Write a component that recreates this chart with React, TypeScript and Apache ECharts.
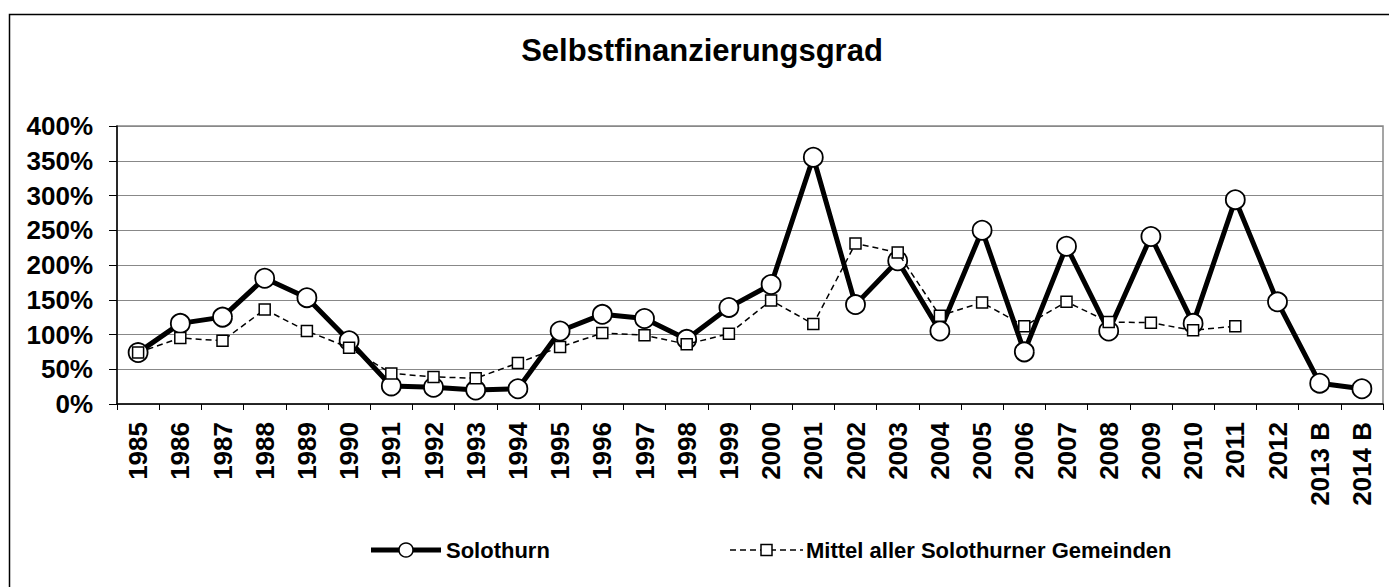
import React, { useEffect, useRef } from "react";
import * as echarts from "echarts";

const categories = [
  "1985", "1986", "1987", "1988", "1989", "1990", "1991", "1992", "1993", "1994",
  "1995", "1996", "1997", "1998", "1999", "2000", "2001", "2002", "2003", "2004",
  "2005", "2006", "2007", "2008", "2009", "2010", "2011", "2012", "2013 B", "2014 B",
];
const solothurn = [
  74, 116, 125, 181, 153, 91, 26, 24, 20, 22,
  105, 129, 123, 93, 139, 172, 355, 143, 206, 105,
  250, 75, 227, 105, 241, 116, 294, 147, 30, 22,
];
const mittel = [
  74, 95, 91, 136, 105, 81, 44, 39, 37, 59,
  82, 102, 99, 86, 101, 149, 115, 231, 218, 127,
  146, 112, 147, 118, 117, 106, 112, null, null, null,
];
const seriesNames = ["Solothurn", "Mittel aller Solothurner Gemeinden"];
const titleText = "Selbstfinanzierungsgrad";

const FONT = "'Liberation Sans', Arial, Helvetica, sans-serif";

export default function App() {
  const ref = useRef<HTMLDivElement>(null);
  useEffect(() => {
    if (!ref.current) return;
    const chart = echarts.init(ref.current, undefined, { renderer: "svg" });
    const legendY = 550;
    chart.setOption({
      animation: false,
      backgroundColor: "#ffffff",
      graphic: [
        {
          type: "rect",
          shape: { x: 9.5, y: 14.5, width: 1420, height: 620 },
          style: { fill: "none", stroke: "#000", lineWidth: 1.5 },
          z: 0,
        },
        // legend entry 1
        {
          type: "line",
          shape: { x1: 371, y1: legendY, x2: 441, y2: legendY },
          style: { stroke: "#000", lineWidth: 5 },
          z: 10,
        },
        {
          type: "circle",
          shape: { cx: 406, cy: legendY, r: 7 },
          style: { fill: "#fff", stroke: "#000", lineWidth: 1.5 },
          z: 11,
        },
        {
          type: "text",
          x: 446,
          y: legendY,
          style: {
            text: seriesNames[0],
            fill: "#000",
            font: "bold 22px " + FONT,
            verticalAlign: "middle",
            align: "left",
          },
          z: 10,
        },
        // legend entry 2
        {
          type: "line",
          shape: { x1: 730, y1: legendY, x2: 803, y2: legendY },
          style: { stroke: "#000", lineWidth: 1.5, lineDash: [6, 4] },
          z: 10,
        },
        {
          type: "rect",
          shape: { x: 761, y: legendY - 5.5, width: 11, height: 11 },
          style: { fill: "#fff", stroke: "#000", lineWidth: 1.5 },
          z: 11,
        },
        {
          type: "text",
          x: 806,
          y: legendY,
          style: {
            text: seriesNames[1],
            fill: "#000",
            font: "bold 22px " + FONT,
            verticalAlign: "middle",
            align: "left",
          },
          z: 10,
        },
      ],
      title: {
        text: titleText,
        left: 697,
        top: 30,
        textAlign: "center",
        textStyle: { fontFamily: FONT, fontWeight: "bold", fontSize: 31, color: "#000" },
      },
      grid: { left: 117, right: 6, top: 126, bottom: 183, show: true, borderColor: "#888", borderWidth: 1.5 },
      xAxis: {
        type: "category",
        data: categories,
        boundaryGap: true,
        axisLine: { lineStyle: { color: "#000", width: 1.5 } },
        axisTick: { show: true, length: 6, lineStyle: { color: "#000" } },
        axisLabel: {
          rotate: 90,
          margin: 18,
          interval: 0,
          fontFamily: FONT,
          fontWeight: "bold",
          fontSize: 26,
          color: "#000",
        },
      },
      yAxis: {
        type: "value",
        min: 0,
        max: 400,
        interval: 50,
        axisLine: { show: true, lineStyle: { color: "#000", width: 1.5 } },
        axisTick: { show: true, length: 8, lineStyle: { color: "#000" } },
        splitLine: { lineStyle: { color: "#888", width: 1.2 } },
        axisLabel: {
          formatter: (v: number) => v + "%",
          margin: 24,
          fontFamily: FONT,
          fontWeight: "bold",
          fontSize: 26,
          color: "#000",
        },
      },
      series: [
        {
          name: seriesNames[0],
          type: "line",
          data: solothurn,
          z: 2,
          symbol: "circle",
          symbolSize: 19,
          lineStyle: { color: "#000", width: 5 },
          itemStyle: { color: "#fff", borderColor: "#000", borderWidth: 1.8 },
        },
        {
          name: seriesNames[1],
          type: "line",
          data: mittel,
          z: 3,
          symbol: "rect",
          symbolSize: 11,
          lineStyle: { color: "#000", width: 1.5, type: [6, 4] },
          itemStyle: { color: "#fff", borderColor: "#000", borderWidth: 1.5 },
        },
      ],
    });
    return () => chart.dispose();
  }, []);
  return (
    <div
      ref={ref}
      style={{ position: "fixed", left: 0, top: 0, width: 1389, height: 587 }}
    />
  );
}
